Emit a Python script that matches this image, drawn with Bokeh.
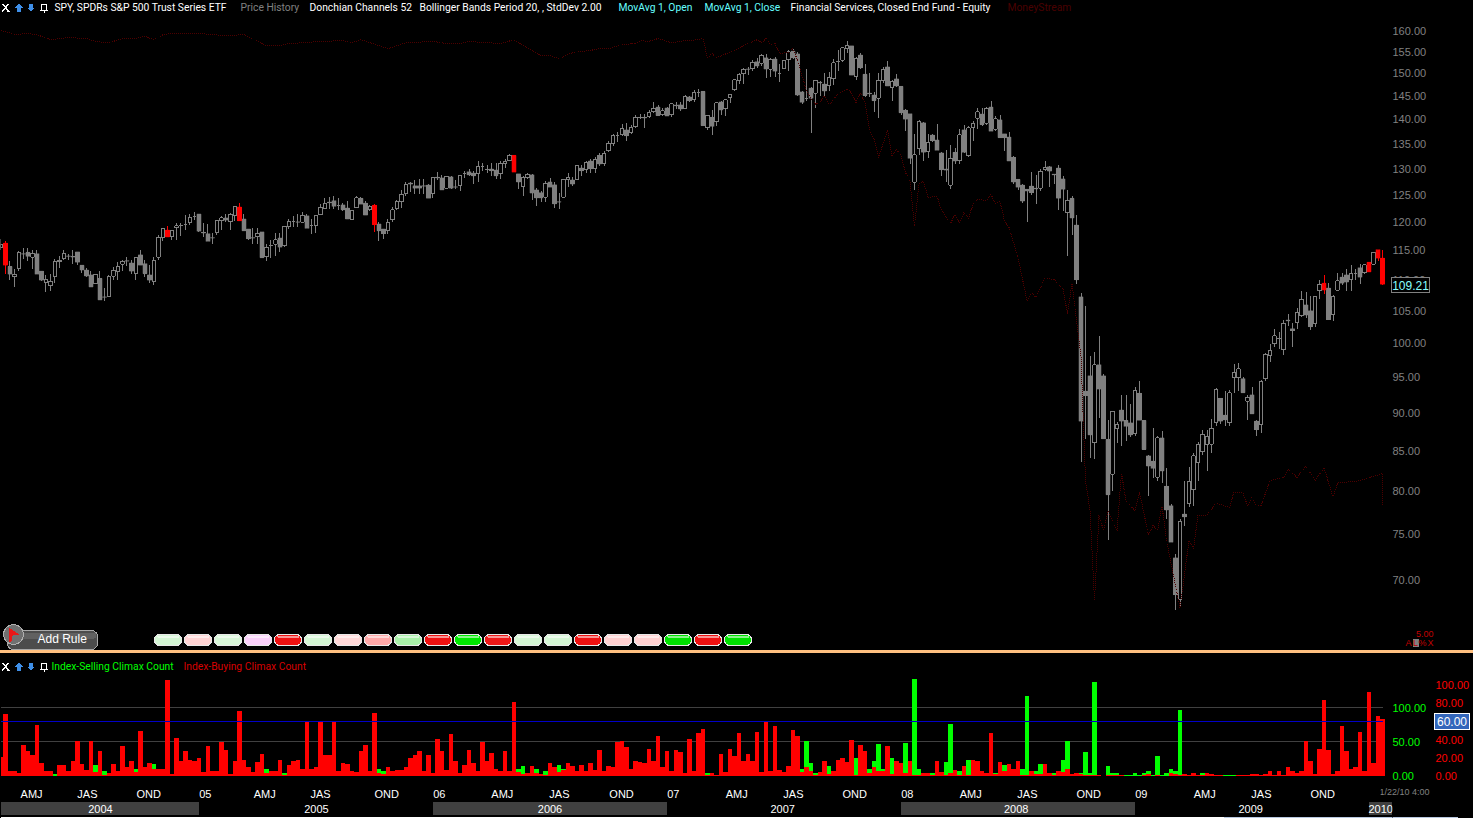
import numpy as np
from bokeh.embed import file_html
from bokeh.layouts import column
from bokeh.models import (BoxAnnotation, FixedTicker, InlineStyleSheet, Label, LinearAxis,
                          NumeralTickFormatter, PolyAnnotation, Range1d, Spacer)
from bokeh.plotting import figure
from bokeh.resources import INLINE

# ---------- weekly SPY candles ----------
opens = [
115.5,116.2,112.2,110.5,111.8,114.4,114.6,113.8,114.4,111.4,
109.5,109.0,110.5,113.0,113.6,114.0,113.9,114.7,112.4,111.6,
110.8,109.3,110.2,107.2,107.2,110.6,111.3,112.6,113.2,112.8,
111.0,114.2,112.7,110.8,109.7,113.8,117.2,118.5,117.3,118.9,
119.3,119.5,119.8,121.0,121.4,118.1,117.9,117.2,118.0,120.2,
120.7,120.0,121.2,122.7,120.5,118.7,117.2,117.3,118.2,113.9,
115.8,116.0,117.1,115.8,119.1,120.0,120.0,119.9,121.1,119.3,
119.3,121.3,122.4,123.6,123.9,122.9,123.1,122.5,120.4,122.6,
124.3,123.4,122.2,123.0,119.6,118.7,118.4,120.4,122.5,123.7,
125.3,127.2,126.7,126.7,126.7,126.8,125.2,128.3,128.2,126.2,
128.4,126.5,126.7,129.1,129.4,129.1,129.0,130.4,129.8,129.9,
129.7,129.0,131.0,131.6,132.6,129.0,126.5,128.2,128.8,125.9,
125.4,124.5,127.4,126.9,123.7,124.5,127.8,127.8,127.8,130.1,
129.8,131.5,130.0,132.6,131.0,133.6,135.0,136.7,136.8,137.8,
137.3,138.5,140.4,140.4,140.6,141.6,142.6,141.0,142.4,141.0,
143.0,143.1,142.4,144.8,144.3,145.7,146.0,138.2,140.4,139.5,
143.7,142.2,144.7,146.4,148.5,150.0,151.0,151.1,152.7,152.3,
153.6,151.0,153.3,150.1,151.1,153.2,155.1,154.5,145.9,144.5,
146.7,145.6,148.0,147.6,147.2,148.8,152.7,153.0,155.7,156.4,
149.4,154.2,149.8,145.6,145.2,144.5,148.4,151.5,146.9,148.8,
147.1,141.9,141.2,127.4,134.0,139.3,133.4,136.7,135.7,133.1,
129.9,126.8,133.2,131.6,137.8,132.6,138.2,140.2,141.1,139.2,
142.6,137.9,139.9,137.0,136.3,132.2,127.9,126.8,126.0,126.6,
126.2,126.2,129.8,130.4,128.9,130.1,128.0,121.7,124.3,119.4,
107.2,93.0,95.2,86.1,96.8,95.2,86.5,82.1,88.0,90.4,
89.0,88.7,87.3,92.7,89.0,84.4,83.7,81.7,86.7,80.6,
78.3,72.4,68.0,77.3,78.6,80.2,83.5,84.9,85.8,85.9,
88.7,92.0,89.7,88.7,94.9,94.9,94.8,91.6,92.5,88.9,
88.4,94.8,98.2,99.9,100.7,99.0,103.5,102.2,103.1,104.2,
105.9,105.0,103.0,108.2,109.4,108.6,104.4,108.3,110.4,110.8,
110.0,111.1,112.0,111.2,112.9,112.6,115.1,113.6]
closes = [
116.0,112.4,110.9,110.9,114.6,114.3,113.9,114.4,110.9,109.9,
110.0,109.7,113.0,113.3,114.5,113.9,113.8,112.9,111.6,110.6,
108.8,110.9,106.7,107.1,110.6,111.6,112.2,113.1,113.1,111.4,
113.8,112.4,111.0,109.9,113.3,117.2,118.8,117.3,118.4,119.3,
119.4,119.5,120.7,121.0,118.3,118.0,116.5,117.1,120.2,120.7,
120.3,121.4,122.8,120.2,118.4,117.0,117.1,117.9,113.7,115.5,
115.8,116.8,115.5,119.2,120.1,120.0,119.9,121.2,118.8,119.3,
121.2,122.7,123.4,123.5,122.8,122.9,122.2,120.5,122.1,124.4,
123.2,121.2,122.8,119.5,118.4,117.9,119.8,122.2,123.7,125.1,
127.0,127.0,126.2,126.2,126.6,124.3,128.3,128.2,125.9,128.5,
126.2,126.4,128.6,129.1,128.8,128.6,130.5,130.4,129.8,129.6,
128.6,131.0,131.4,132.6,129.3,127.4,128.2,128.9,125.3,124.4,
124.4,127.2,126.4,123.3,123.6,127.9,128.2,127.0,130.6,129.6,
131.2,130.0,131.8,130.9,133.0,135.0,136.7,136.7,138.0,136.6,
138.3,140.4,140.4,140.3,141.5,142.3,140.8,141.8,140.7,143.3,
142.9,142.2,145.0,144.0,145.8,145.7,138.7,140.9,138.5,143.5,
142.0,144.2,145.3,148.6,149.8,151.0,150.9,152.6,151.7,154.2,
151.0,153.2,150.5,150.1,152.9,155.0,153.6,145.2,143.6,144.5,
144.5,148.4,147.9,146.1,149.0,152.4,152.7,155.9,156.4,149.6,
153.5,151.3,145.1,145.5,144.0,148.5,150.9,147.2,148.3,147.2,
141.4,140.0,132.0,132.7,139.6,133.2,135.2,135.6,133.6,129.8,
129.7,132.0,131.5,136.8,133.2,138.2,139.2,141.6,138.9,142.3,
137.5,140.1,136.2,136.2,131.5,127.4,126.4,123.8,125.7,125.4,
126.1,129.5,130.2,129.5,128.8,124.3,126.0,124.0,120.7,110.0,
88.9,92.4,87.1,96.8,93.3,86.6,79.6,90.2,88.4,88.9,
88.2,87.1,93.1,89.0,85.2,83.1,82.8,86.7,82.5,77.8,
74.1,68.5,76.5,77.0,81.2,84.4,85.9,87.2,86.9,88.0,
93.3,88.9,89.1,92.8,95.6,96.2,92.8,92.2,89.9,87.8,
94.4,98.3,98.9,101.1,100.7,103.0,103.4,101.9,104.7,106.8,
104.3,102.5,107.3,109.2,108.3,103.6,107.2,109.8,109.4,109.6,
111.1,111.1,110.4,112.5,111.3,114.6,113.6,109.21]
highs = [
117.0,116.5,113.1,111.7,114.9,115.4,115.3,115.0,115.1,111.5,
110.7,111.0,113.4,113.9,115.0,114.4,115.0,114.7,112.4,112.0,
111.5,111.0,111.5,108.6,110.7,112.1,112.9,113.3,113.8,113.3,
113.8,115.0,113.3,112.5,113.8,117.7,118.8,119.2,118.6,119.7,
119.7,121.3,121.4,121.7,121.5,119.8,119.6,118.0,120.4,121.0,
121.4,121.6,122.8,123.4,121.4,118.7,118.9,118.9,118.2,116.0,
116.8,118.0,118.0,119.2,120.5,121.0,121.5,121.8,121.5,120.5,
121.3,123.3,124.3,124.6,124.8,124.3,123.5,123.9,122.2,124.7,
124.6,123.8,123.0,123.3,119.9,118.7,120.5,122.7,124.0,125.8,
127.5,127.5,127.7,128.0,127.9,127.0,128.3,129.3,128.8,128.5,
128.6,127.8,128.7,129.5,129.9,129.6,131.5,131.1,130.8,131.1,
131.1,131.5,131.8,132.9,132.6,129.0,128.5,129.2,129.0,126.3,
125.7,127.6,128.1,127.4,125.4,127.9,129.2,128.4,130.7,130.8,
131.5,131.8,132.2,133.0,133.5,135.5,137.0,137.4,139.1,139.2,
138.9,141.0,141.2,141.2,142.0,143.6,143.0,142.3,142.6,143.4,
143.7,143.7,145.2,145.0,146.3,146.5,146.0,141.0,142.0,143.7,
144.0,144.4,145.5,148.8,150.2,151.3,151.5,153.1,153.5,154.5,
154.5,153.5,153.7,152.2,153.1,155.5,155.7,155.0,146.0,151.0,
147.0,148.6,148.2,150.0,150.3,153.3,155.4,156.2,157.6,156.4,
153.7,154.7,152.1,150.0,145.8,150.0,151.5,152.9,148.6,149.8,
147.3,142.2,141.2,136.9,139.9,139.5,137.0,136.9,139.0,133.3,
133.6,134.6,134.0,138.0,138.8,138.6,139.7,142.5,142.5,142.6,
144.0,140.6,140.9,137.0,137.3,132.4,128.0,127.0,126.1,129.3,
128.7,130.0,131.5,130.6,129.0,130.8,128.5,125.8,124.8,121.3,
107.8,105.7,98.1,98.6,101.0,95.5,89.0,90.3,88.8,92.5,
92.5,91.2,93.6,94.5,89.0,84.5,88.0,87.0,87.6,82.9,
78.5,72.8,76.8,81.3,83.0,84.7,86.2,87.8,87.7,89.2,
93.5,92.0,93.1,93.2,96.9,97.1,95.0,92.5,93.6,89.0,
94.6,98.5,99.9,102.2,101.6,103.6,104.5,103.1,105.4,108.2,
108.0,107.3,107.4,110.0,110.8,109.4,107.5,111.1,111.1,111.7,
112.4,111.7,112.7,112.7,113.0,114.7,115.1,115.1]
lows = [
115.0,111.0,110.0,108.8,111.5,113.5,113.2,111.8,110.9,109.8,
107.9,108.2,109.5,112.0,113.3,113.3,112.7,112.5,111.1,110.4,
108.8,109.3,106.7,106.6,107.2,109.9,110.0,111.4,112.3,110.9,
110.0,112.4,110.5,109.4,109.1,113.3,116.5,117.3,116.8,116.7,
117.5,118.6,119.4,120.3,118.2,117.3,116.5,116.0,117.7,118.5,
120.0,118.5,120.1,120.2,118.4,116.7,116.0,116.0,113.7,113.2,
113.6,113.9,114.6,115.6,118.7,119.1,119.0,119.9,118.8,117.9,
118.0,121.2,122.3,122.3,122.3,122.1,122.0,120.5,120.4,122.5,
123.2,121.2,122.0,118.1,116.6,116.9,117.9,120.0,122.2,122.5,
124.8,125.5,125.2,125.2,125.2,124.3,124.3,127.8,125.9,126.0,
126.0,126.0,125.7,128.1,128.5,127.0,127.5,129.6,129.2,128.6,
128.0,128.0,130.2,131.4,129.3,126.1,124.8,128.0,124.0,122.9,
123.7,123.7,126.4,122.5,122.3,124.5,126.4,126.6,127.8,128.5,
129.2,129.2,129.2,130.5,130.5,133.3,134.5,135.4,136.5,135.5,
136.9,138.1,140.0,138.1,140.3,141.4,140.8,140.8,140.7,140.4,
142.1,141.8,142.1,143.7,143.8,144.8,138.7,137.8,136.8,138.5,
141.0,140.7,143.5,146.2,147.7,147.6,149.7,150.5,151.3,151.8,
148.9,149.3,149.3,148.1,150.9,150.5,153.2,145.0,143.2,143.9,
137.2,142.3,145.0,144.7,146.0,147.5,150.6,152.7,154.6,149.6,
148.5,151.0,144.8,144.8,141.6,140.2,147.9,147.1,144.0,147.0,
141.0,137.5,131.0,125.9,132.6,131.5,132.1,135.4,133.6,128.6,
127.4,126.1,131.0,131.0,133.0,132.3,135.5,137.9,138.5,138.8,
137.5,137.5,136.2,133.4,131.5,127.0,125.8,123.4,120.0,125.0,
123.3,125.6,129.6,126.4,127.0,122.1,122.0,114.0,117.6,109.3,
83.6,86.5,84.1,84.0,89.3,86.6,74.4,80.1,86.0,85.6,
86.3,86.8,87.0,89.0,85.2,79.4,81.6,81.2,81.0,76.7,
74.1,66.9,67.3,75.9,78.1,78.3,81.2,84.5,82.5,84.8,
88.2,88.5,88.2,88.2,92.8,93.0,92.8,89.0,89.9,87.0,
87.4,94.5,97.2,99.4,99.1,98.2,102.6,99.4,102.2,104.0,
103.9,102.0,102.5,106.9,107.6,103.6,103.3,108.1,109.2,108.2,
108.1,110.0,109.3,111.0,111.3,112.4,113.2,109.2]
signal_bars = [1, 37, 53, 83, 114, 294, 304, 306, 307]

# ---------- MoneyStream overlay (week number, level) ----------
ms_week = [0,2,3,6,8,11,13,15,19,21,24,27,30,32,34,36,38,41,44,47,50,54,59,62,64,67,71,76,78,80,82,86,90,96,99,102,104,111,
114,116,120,122,124,127,131,133,135,138,141,142,144,146,148,149,152,155,156,157,158,159,163,166,168,169,170,171,172,173,175,176,
177,178,179,180,181,182,183,184,186,188,189,190,191,192,193,194,195,197,198,199,200,201,202,203,204,205,206,208,209,211,212,213,
214,215,216,217,219,220,221,222,223,224,226,228,229,230,232,234,236,237,238,240,241,242,243,244,245,246,248,249,250,252,253,255,
256,257,258,259,262,264,265,266,268,270,273,274,276,277,278,279,280,282,285,286,288,290,292,294,296,297,302,306,307,307]
ms_level = [160.0,159.5,159.0,159.3,159.0,157.8,158.1,158.3,158.1,157.4,157.1,158.1,158.1,158.6,157.8,159.0,159.3,159.3,159.3,159.0,158.8,159.0,156.4,156.4,156.9,157.1,157.4,157.6,157.1,157.8,157.1,155.7,157.1,157.4,156.9,156.9,157.4,156.9,
157.8,156.4,154.1,154.1,153.4,154.8,155.3,155.7,155.7,156.7,156.9,157.6,157.4,158.1,157.4,157.1,157.6,157.8,158.3,153.4,154.6,153.6,155.3,156.9,157.8,157.1,158.1,156.7,156.9,154.6,154.8,155.7,
153.0,149.5,146.2,144.5,143.2,143.6,145.1,143.0,145.5,146.6,145.7,143.6,145.7,143.4,137.7,136.0,132.2,137.7,132.6,133.8,132.6,129.2,127.7,119.3,127.1,127.5,124.5,124.7,122.1,119.7,121.3,119.7,
121.7,120.6,123.2,124.1,123.9,125.0,123.4,123.7,120.2,119.0,113.7,106.6,107.9,107.1,110.3,110.0,108.5,104.5,109.4,97.9,81.3,77.7,67.9,77.2,75.4,77.7,75.4,82.2,78.9,77.7,79.9,74.9,
76.0,75.4,78.3,74.3,67.1,74.3,73.4,77.2,77.2,78.6,78.1,79.9,79.8,78.3,79.3,78.3,78.3,81.3,81.7,82.7,81.7,83.1,81.3,82.9,79.3,81.0,81.3,82.0,82.2,78.3]

# ---------- climax counts ----------
buying = [
21,68,5,6,3,34,27,23,56,14, 5,5,0,12,12,6,16,39,13,7, 38,4,27,1,3,13,5,33,10,17, 4,49,10,14,8,8,8,106,2,42,
16,27,18,16,20,4,33,5,5,37, 29,2,16,71,18,10,4,15,24,3, 6,6,18,1,12,16,18,8,59,8, 10,59,23,23,59,5,14,13,5,4,
28,34,5,69,3,2,10,5,7,7, 10,20,23,27,5,23,3,41,27,7, 46,16,3,12,29,14,6,37,16,25, 8,6,27,6,81,4,2,3,11,3,
2,1,14,10,4,7,14,11,5,12, 5,14,7,29,6,11,10,37,38,32, 8,17,15,14,30,16,44,10,27,5, 29,26,3,41,5,47,52,1,3,1,
24,4,30,22,47,16,24,17,48,4, 59,5,55,7,4,11,51,44,4,10, 5,1,4,16,2,5,18,20,15,40, 1,34,27,3,10,5,6,33,2,16,
14,3,16,1,1,3,3,1,16,4, 1,3,7,1,11,1,18,16,5,3, 47,2,15,5,13,8,16,1,1,5, 2,2,13,3,1,5,4,8,2,3,
2,1,1,1,1,0,1,1,1,1, 0,0,0,0,1,2,0,1,0,0, 3,2,1,2,1,3,1,1,3,2, 1,1,0,0,0,1,1,1,2,2,
1,2,6,1,5,1,10,5,3,5, 38,16,2,30,83,29,2,5,55,27, 8,10,48,5,92,14,66,63]
selling_week = [12,21,23,30,34,59,63,84,85,115,116,119,121,124,125,157,159,178,179,180,181,184,190,193,194,195,196,198,201,203,204,207,210,211,213,215,221,223,227,228,229,230,231,234,236,237,240,241,242,243,244,246,247,248,250,251,252,253,254,255,256,257,258,259,260,261,262,263,266,267,270,272,273,274,280]
selling = [3,16,7,10,17,11,4,10,8,10,14,11,8,16,11,5,2,11,52,19,5,14,27,11,22,47,10,27,48,142,10,5,20,76,8,23,5,16,11,117,8,7,17,5,23,52,5,35,5,138,2,14,5,4,2,2,5,2,4,7,2,30,2,4,11,7,97,2,2,4,2,2,2,2,2]

price_ticks = [70,75,80,85,90,95,100,105,110,115,120,125,130,135,140,145,150,155,160]
selling_ticks = [0,50,100]
buying_ticks = [0,20,40,60,80,100]
quarter_labels = ["AMJ","JAS","OND","05","AMJ","JAS","OND","06","AMJ","JAS","OND","07","AMJ","JAS","OND","08","AMJ","JAS","OND","09","AMJ","JAS","OND"]
quarter_week = [6.8,19.2,32.8,45.4,58.6,71,85.7,97.4,111.4,124.1,137.9,149.4,163.5,176.1,189.7,201.4,215.5,228.1,241.7,253.4,267.5,280.1,293.7]
year_labels = ["2004","2005","2006","2007","2008","2009","2010"]
year_week = [22.1,70.1,122,173.7,225.6,277.7,306.6]
band_left = [0.1,96.1,200.1,304.1]
band_right = [44.1,148.1,252.1,309.2]

pill_colors = ["#d4f6d4","#ffd4d4","#d8f6d8","#fad0fa","#ee1010","#d4f6d4","#ffd8d8","#ffa8a8","#a8f0a8","#ee1010",
               "#00e800","#ee1818","#d4f6d4","#d4f6d4","#ee1010","#ffd0d0","#ffd0d0","#00e000","#ee1010","#00e000"]

GRAY = "#808080"
FONT = "Liberation Sans"
HEAD_FONT = "Roboto"
W, FW = 1473, 1392
H1, H2 = 650, 165
OX = 1380  # left edge of the transparent layer that holds the tags over the axis columns
X_RANGE = (-0.111, 309.222)

weeks = np.arange(len(opens))
o, h, l, c = map(np.array, (opens, highs, lows, closes))
is_sig = np.isin(weeks, signal_bars)
is_up = (c >= o) & ~is_sig
is_dn = (c < o) & ~is_sig


def base_fig(height, **kw):
    f = figure(width=W, height=height, output_backend="svg", toolbar_location=None, tools="",
               x_range=Range1d(*X_RANGE), x_axis_location=None,
               min_border_left=0, min_border_top=0, min_border_bottom=0, min_border_right=W - FW,
               background_fill_color="black", border_fill_color="black", outline_line_color=None, **kw)
    f.grid.visible = False
    return f


def txt(f, height, s, x, y, color, size="10.3px", align="left", font=HEAD_FONT, dx=0, **kw):
    f.add_layout(Label(x=x - dx, y=height - y, x_units="screen", y_units="screen", text=s, text_color=color,
                       text_font=font, text_font_size=size, text_align=align, text_baseline="middle",
                       level="overlay", **kw))


def box(f, height, x0, x1, y0, y1, fill, line=None, radius=0, alpha=1, dx=0):
    f.add_layout(BoxAnnotation(left=x0 - dx, right=x1 - dx, top=height - y0, bottom=height - y1,
                               left_units="screen", right_units="screen", top_units="screen", bottom_units="screen",
                               fill_color=fill, fill_alpha=alpha, line_color=line, line_alpha=1 if line else 0,
                               border_radius=radius, level="overlay", editable=False))


def poly(f, height, pts, fill):
    f.add_layout(PolyAnnotation(xs=[a for a, _ in pts], ys=[height - b for _, b in pts],
                                xs_units="screen", ys_units="screen", fill_color=fill, fill_alpha=1,
                                line_color=None, level="overlay"))


def icons(f, height, yc):
    # close cross, up / down arrows, pin
    poly(f, height, [(1, yc-4), (3, yc-4), (5, yc-1.5), (7, yc-4), (9, yc-4), (6, yc), (9, yc+4), (7, yc+4), (5, yc+1.5), (3, yc+4), (1, yc+4), (4, yc)], "white")
    poly(f, height, [(18, yc-4), (22, yc), (20, yc), (20, yc+4), (16, yc+4), (16, yc), (14, yc)], "#3f8fe8")
    poly(f, height, [(30, yc+4), (34, yc), (32, yc), (32, yc-4), (28, yc-4), (28, yc), (26, yc)], "#3f8fe8")
    poly(f, height, [(40, yc-4), (46, yc-4), (46, yc+2), (47, yc+2), (47, yc+3), (44, yc+3), (44, yc+5), (43, yc+5), (43, yc+3), (39, yc+3), (39, yc+2), (40, yc+2)], "white")
    poly(f, height, [(41, yc-3), (45, yc-3), (45, yc+2), (41, yc+2)], "black")


# ---------- price panel ----------
p = base_fig(H1, y_axis_type="log", y_axis_location="right", y_range=Range1d(62.97, 167.4))
p.yaxis.ticker = FixedTicker(ticks=price_ticks)
p.yaxis.formatter = NumeralTickFormatter(format="0.00")
p.yaxis.major_label_text_color = GRAY
p.yaxis.major_label_text_font = FONT
p.yaxis.major_label_text_font_size = "11px"
p.yaxis.major_label_standoff = 0
p.yaxis.major_tick_out = 0
p.yaxis.major_tick_in = 0
p.yaxis.axis_line_color = None
p.yaxis.major_tick_line_color = None
p.yaxis.minor_tick_line_color = None

p.segment(weeks[~is_sig], l[~is_sig], weeks[~is_sig], h[~is_sig], line_color=GRAY, line_width=1)
p.segment(weeks[is_sig], l[is_sig], weeks[is_sig], h[is_sig], line_color="#ff0000", line_width=1)
p.vbar(x=weeks[is_up], bottom=o[is_up], top=c[is_up], width=0.72, fill_color="black", line_color=GRAY, line_width=1)
p.vbar(x=weeks[is_dn], bottom=c[is_dn], top=o[is_dn], width=0.9, fill_color=GRAY, line_color=GRAY, line_width=0.5)
p.vbar(x=weeks[is_sig], bottom=np.minimum(o, c)[is_sig], top=np.maximum(o, c)[is_sig], width=0.9,
       fill_color="#ff0000", line_color="#ff0000", line_width=0.5)
p.line(ms_week, ms_level, line_color="#4c0000", line_width=1, line_dash="1 1")

icons(p, H1, 7)
txt(p, H1, "SPY, SPDRs S&P 500 Trust Series ETF", 54, 7, "white")
txt(p, H1, "Price History", 240, 7, GRAY)
txt(p, H1, "Donchian Channels 52", 309, 7, "white")
txt(p, H1, "Bollinger Bands Period 20, , StdDev 2.00", 419, 7, "white")
txt(p, H1, "MovAvg 1, Open", 618, 7, "#66ffff")
txt(p, H1, "MovAvg 1, Close", 704, 7, "#66ffff")
txt(p, H1, "Financial Services, Closed End Fund - Equity", 790, 7, "white")
txt(p, H1, "MoneyStream", 1007, 7, "#4a0000")

box(p, H1, 7, 97, 630, 649, "#4c4c4c", "#a8a8a8", 6)
box(p, H1, 9, 96, 632, 638, "#ffffff", None, 4, 0.12)
box(p, H1, 3, 23, 624, 644, "#707070", "#b0b0b0", 10)
poly(p, H1, [(8, 627), (19, 634), (12, 635), (11, 641), (9, 641)], "#e81818")
txt(p, H1, "Add Rule", 37, 638, "white", "12px", "left", FONT)
for n, col in enumerate(pill_colors):
    box(p, H1, 154 + 30 * n, 181 + 30 * n, 634, 645, col, "#e8e8e8", 5)
    box(p, H1, 156 + 30 * n, 179 + 30 * n, 635, 637, "#ffffff", None, 1, 0.55)

# ---------- climax panel ----------
q = base_fig(H2, y_axis_location=None, y_range=Range1d(-46.7, 134.6))
q.extra_y_ranges = {"selling": Range1d(-62.5, 180.1)}
ax_sell = LinearAxis(y_range_name="selling", ticker=FixedTicker(ticks=selling_ticks),
                     formatter=NumeralTickFormatter(format="0.00"), major_label_text_color="#00ff00",
                     major_label_text_font=FONT, major_label_text_font_size="11px", major_label_standoff=0,
                     major_tick_out=0, major_tick_in=0,
                     axis_line_color=None, major_tick_line_color=None, minor_tick_line_color=None)
ax_buy = LinearAxis(ticker=FixedTicker(ticks=buying_ticks), formatter=NumeralTickFormatter(format="0.00"),
                    major_label_text_color="#ff0000", major_label_text_font=FONT, major_label_text_font_size="11px",
                    major_label_standoff=6, major_tick_out=0, major_tick_in=0,
                    axis_line_color=None, major_tick_line_color=None, minor_tick_line_color=None)
q.add_layout(ax_sell, "right")
q.add_layout(ax_buy, "right")

q.segment(x0=[0, 0], y0=[50, 100], x1=[307, 307], y1=[50, 100], y_range_name="selling", line_color="#404040", line_width=1)
q.vbar(x=selling_week, top=selling, bottom=0, width=0.92, y_range_name="selling", fill_color="#00ff00", line_color=None)
q.vbar(x=weeks, top=buying, bottom=0, width=0.92, fill_color="#ff0000", line_color=None)
q.segment(x0=[0], y0=[60], x1=[307], y1=[60], line_color="#0000c8", line_width=1)

q.quad(left=band_left, right=band_right, bottom=-43.4, top=-29.1, fill_color="#404040", line_color=None)
q.text(x=quarter_week, y=-20.3, text=quarter_labels, text_color="white", text_font_size="11px",
       text_align="center", text_baseline="middle", text_font={"value": FONT})
q.text(x=year_week, y=-36.8, text=year_labels, text_color="white", text_font_size="11px",
       text_align="center", text_baseline="middle", text_font={"value": FONT})

icons(q, H2, 13)
txt(q, H2, "Index-Selling Climax Count", 51, 13, "#00ff00")
txt(q, H2, "Index-Buying Climax Count", 183, 13, "#d80000")
box(q, H2, 0, 1223, 163, 164.5, "white")
box(q, H2, 1223, 1392, 163, 164.5, "#b8c8e0")

# ---------- transparent layer for the tags that sit over the axis columns ----------
OH = H1 + 3 + H2
tags = figure(width=W - OX, height=OH, output_backend="svg", toolbar_location=None, tools="",
              x_range=Range1d(0, 1), y_range=Range1d(0, 1), x_axis_location=None, y_axis_location=None,
              min_border_left=0, min_border_right=0, min_border_top=0, min_border_bottom=0,
              background_fill_color=None, border_fill_color=None, outline_line_color=None,
              stylesheets=[InlineStyleSheet(css=f":host{{position:fixed;left:{OX}px;top:0;pointer-events:none;shape-rendering:crispEdges}}")])
tags.grid.visible = False
box(tags, OH, 1391, 1429, 277, 292, "black", GRAY, dx=OX)
txt(tags, OH, "109.21", 1410, 284.5, "#88ffff", "12px", "center", FONT, dx=OX)
txt(tags, OH, "5.00", 1433, 633, "#c00000", "9px", "right", FONT, dx=OX)
box(tags, OH, 1412, 1418, 638, 646, "#808080", dx=OX)
for ch, xc in zip(["A", "L", "%", "X"], [1408, 1415, 1422, 1430]):
    txt(tags, OH, ch, xc, 642, "#c00000", "9px", "center", FONT, dx=OX)
txt(tags, OH, "1/22/10 4:00", 1404, 791, "#808080", "9px", "center", FONT, dx=OX)
box(tags, OH, 1434, 1469, 713, 729, "#3366bb", "white", dx=OX)
txt(tags, OH, "60.00", 1451.5, 721, "white", "12px", "center", FONT, dx=OX)
box(tags, OH, 1392, 1457, 816, 817.5, "#b8c8e0", dx=OX)

divider = Spacer(width=W, height=3, styles={"background-color": "#ffc080"})
page = column(p, divider, q, spacing=0,
              stylesheets=[InlineStyleSheet(css=":host{position:fixed;left:0;top:0;shape-rendering:crispEdges;background:#000}")])

open("out.html", "w").write(file_html([page, tags], INLINE))
